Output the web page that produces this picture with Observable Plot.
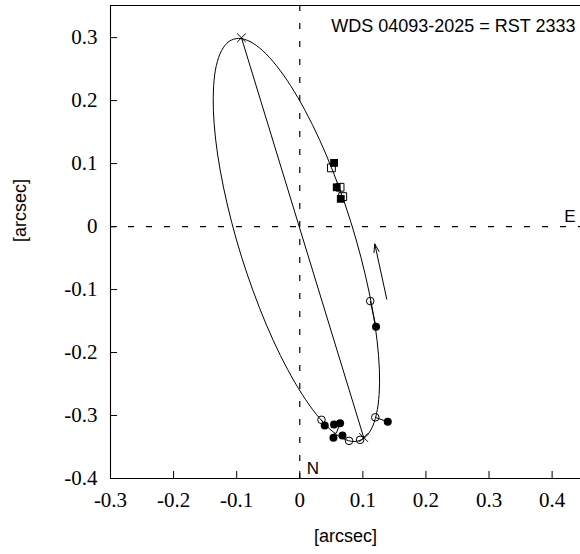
<!DOCTYPE html>
<html>
<head>
<meta charset="utf-8">
<script src="https://cdn.jsdelivr.net/npm/d3@7"></script>
<script src="https://cdn.jsdelivr.net/npm/@observablehq/plot@0.6"></script>
<style>
  html, body { margin: 0; padding: 0; background: #fff; }
</style>
</head>
<body>
<div id="chart"></div>
<script>
// ---- Data ----
const titleText = "WDS 04093-2025 = RST 2333";
const axisLabel = "[arcsec]";
const xTicks = [-0.3, -0.2, -0.1, 0, 0.1, 0.2, 0.3, 0.4];
const yTicks = [-0.4, -0.3, -0.2, -0.1, 0, 0.1, 0.2, 0.3];
const xDomain = [-0.3, 0.445];
const yDomain = [-0.4, 0.351];

// orbit (apparent ellipse)
const orbitX = [-0.0970, -0.0791, -0.0590, -0.0373, -0.0146, 0.0084, 0.0310, 0.0524, 0.0722, 0.0895, 0.1039, 0.1151, 0.1226, 0.1262, 0.1258, 0.1214, 0.1132, 0.1013, 0.0862, 0.0684, 0.0482, 0.0265, 0.0038, -0.0192, -0.0418, -0.0632, -0.0829, -0.1003, -0.1147, -0.1259, -0.1334, -0.1369, -0.1365, -0.1322, -0.1239, -0.1121];
const orbitY = [0.2988, 0.2939, 0.2795, 0.2559, 0.2239, 0.1844, 0.1387, 0.0882, 0.0343, -0.0213, -0.0768, -0.1307, -0.1813, -0.2270, -0.2664, -0.2984, -0.3220, -0.3365, -0.3413, -0.3365, -0.3220, -0.2984, -0.2664, -0.2270, -0.1813, -0.1307, -0.0768, -0.0213, 0.0343, 0.0882, 0.1387, 0.1844, 0.2239, 0.2559, 0.2795, 0.2939];

// line of apsides (periastron / apastron crosses)
const apsidesX = [-0.0924, 0.1014];
const apsidesY = [0.2997, -0.335];

// measurements
const filledCircleX = [0.1209, 0.0396, 0.0544, 0.0639, 0.0534, 0.0677, 0.1395];
const filledCircleY = [-0.1592, -0.3159, -0.3143, -0.3122, -0.3354, -0.3317, -0.3100];
const openCircleX = [0.1117, 0.0344, 0.0781, 0.0956, 0.1197];
const openCircleY = [-0.1183, -0.3068, -0.3402, -0.3386, -0.3029];
const filledSquareX = [0.0544, 0.0586, 0.0650];
const filledSquareY = [0.1011, 0.0624, 0.0440];
const openSquareX = [0.0502, 0.0639, 0.0681];
const openSquareY = [0.0932, 0.0624, 0.0476];

// O-C segments (measure -> computed position)
const ocX1 = [0.1117, 0.1197, 0.0396, 0.0544, 0.0639, 0.0534, 0.0677];
const ocY1 = [-0.1183, -0.3029, -0.3159, -0.3143, -0.3122, -0.3354, -0.3317];
const ocX2 = [0.1209, 0.1395, 0.0344, 0.0500, 0.0580, 0.0560, 0.0660];
const ocY2 = [-0.1592, -0.3100, -0.3068, -0.3200, -0.3280, -0.3270, -0.3330];

// direction of motion arrow
const arrowFrom = [0.1379, -0.1151];
const arrowTo = [0.1189, -0.0276];

// ---- Build tables ----
const zip = (xs, ys) => xs.map((x, i) => ({x, y: ys[i]}));
const orbit = zip(orbitX, orbitY);
const apsides = zip(apsidesX, apsidesY);
const filledCircles = zip(filledCircleX, filledCircleY);
const openCircles = zip(openCircleX, openCircleY);
const filledSquares = zip(filledSquareX, filledSquareY);
const openSquares = zip(openSquareX, openSquareY);
const oc = ocX1.map((x1, i) => ({x1, y1: ocY1[i], x2: ocX2[i], y2: ocY2[i]}));

const sans = "Liberation Sans";
const serif = "Liberation Serif";
const fmt = d => String(+d.toFixed(1));

const chart = Plot.plot({
  width: 580,
  height: 554,
  marginLeft: 110,
  marginRight: 0,
  marginTop: 5,
  marginBottom: 76,
  x: {domain: xDomain},
  y: {domain: yDomain},
  style: {background: "#fff", color: "#000", overflow: "visible"},
  marks: [
    // frame: left, bottom, top
    Plot.ruleX([xDomain[0]], {stroke: "#000", strokeWidth: 1.1}),
    Plot.ruleY([yDomain[0]], {stroke: "#000", strokeWidth: 1.1}),
    Plot.ruleY([yDomain[1]], {stroke: "#000", strokeWidth: 1.1}),
    // inward ticks
    Plot.axisX(xTicks, {tickSize: 7, dy: -7, fill: "none", tickFormat: () => "", label: null, stroke: "#000"}),
    Plot.axisY(yTicks, {tickSize: 7, dx: 7, fill: "none", tickFormat: () => "", label: null, stroke: "#000"}),
    // tick labels
    Plot.axisX(xTicks, {tickSize: 0, tickPadding: 14, tickFormat: fmt, label: null, fontFamily: serif, fontSize: 21, fill: "#000"}),
    Plot.axisY(yTicks, {tickSize: 0, tickPadding: 13, tickFormat: fmt, label: null, fontFamily: serif, fontSize: 21, fill: "#000"}),
    // origin dashed lines
    Plot.ruleX([0], {stroke: "#000", strokeWidth: 1.2, strokeDasharray: "6,12"}),
    Plot.ruleY([0], {stroke: "#000", strokeWidth: 1.2, strokeDasharray: "6,12"}),
    // orbit
    Plot.line(orbit, {x: "x", y: "y", curve: "catmull-rom-closed", stroke: "#000", strokeWidth: 1}),
    // apsides line
    Plot.line(apsides, {x: "x", y: "y", stroke: "#000", strokeWidth: 1}),
    Plot.dot(apsides, {x: "x", y: "y", symbol: "times", r: 4, stroke: "#000", strokeWidth: 1}),
    // O-C segments
    Plot.link(oc, {x1: "x1", y1: "y1", x2: "x2", y2: "y2", stroke: "#000", strokeWidth: 1}),
    // measurements
    Plot.dot(openSquares, {x: "x", y: "y", symbol: "square", r: 4.4, stroke: "#000", fill: "none", strokeWidth: 1}),
    Plot.dot(filledSquares, {x: "x", y: "y", symbol: "square", r: 4.4, fill: "#000", stroke: "none"}),
    Plot.dot(openCircles, {x: "x", y: "y", r: 3.8, stroke: "#000", fill: "none", strokeWidth: 1}),
    Plot.dot(filledCircles, {x: "x", y: "y", r: 4, fill: "#000", stroke: "none"}),
    // motion arrow
    Plot.arrow([{x1: arrowFrom[0], y1: arrowFrom[1], x2: arrowTo[0], y2: arrowTo[1]}],
      {x1: "x1", y1: "y1", x2: "x2", y2: "y2", headLength: 13, headAngle: 35, stroke: "#000", strokeWidth: 1}),
    // labels
    Plot.text([titleText], {frameAnchor: "top-right", dx: -5, dy: 21, lineAnchor: "middle", textAnchor: "end", fontFamily: sans, fontSize: 18, fill: "#000"}),
    Plot.text([{t: "E", x: xDomain[1], y: 0}], {x: "x", y: "y", text: "t", dx: -5, dy: -5, textAnchor: "end", lineAnchor: "bottom", fontFamily: sans, fontSize: 17, fill: "#000"}),
    Plot.text([{t: "N", x: 0, y: yDomain[0]}], {x: "x", y: "y", text: "t", dx: 7, dy: -5, textAnchor: "start", lineAnchor: "bottom", fontFamily: sans, fontSize: 17, fill: "#000"}),
    Plot.text([axisLabel], {frameAnchor: "bottom", dy: 63, lineAnchor: "bottom", fontFamily: sans, fontSize: 18, fill: "#000"}),
    Plot.text([axisLabel], {frameAnchor: "left", dx: -90, rotate: -90, lineAnchor: "middle", fontFamily: sans, fontSize: 18, fill: "#000"})
  ]
});
document.getElementById("chart").appendChild(chart);
</script>
</body>
</html>
